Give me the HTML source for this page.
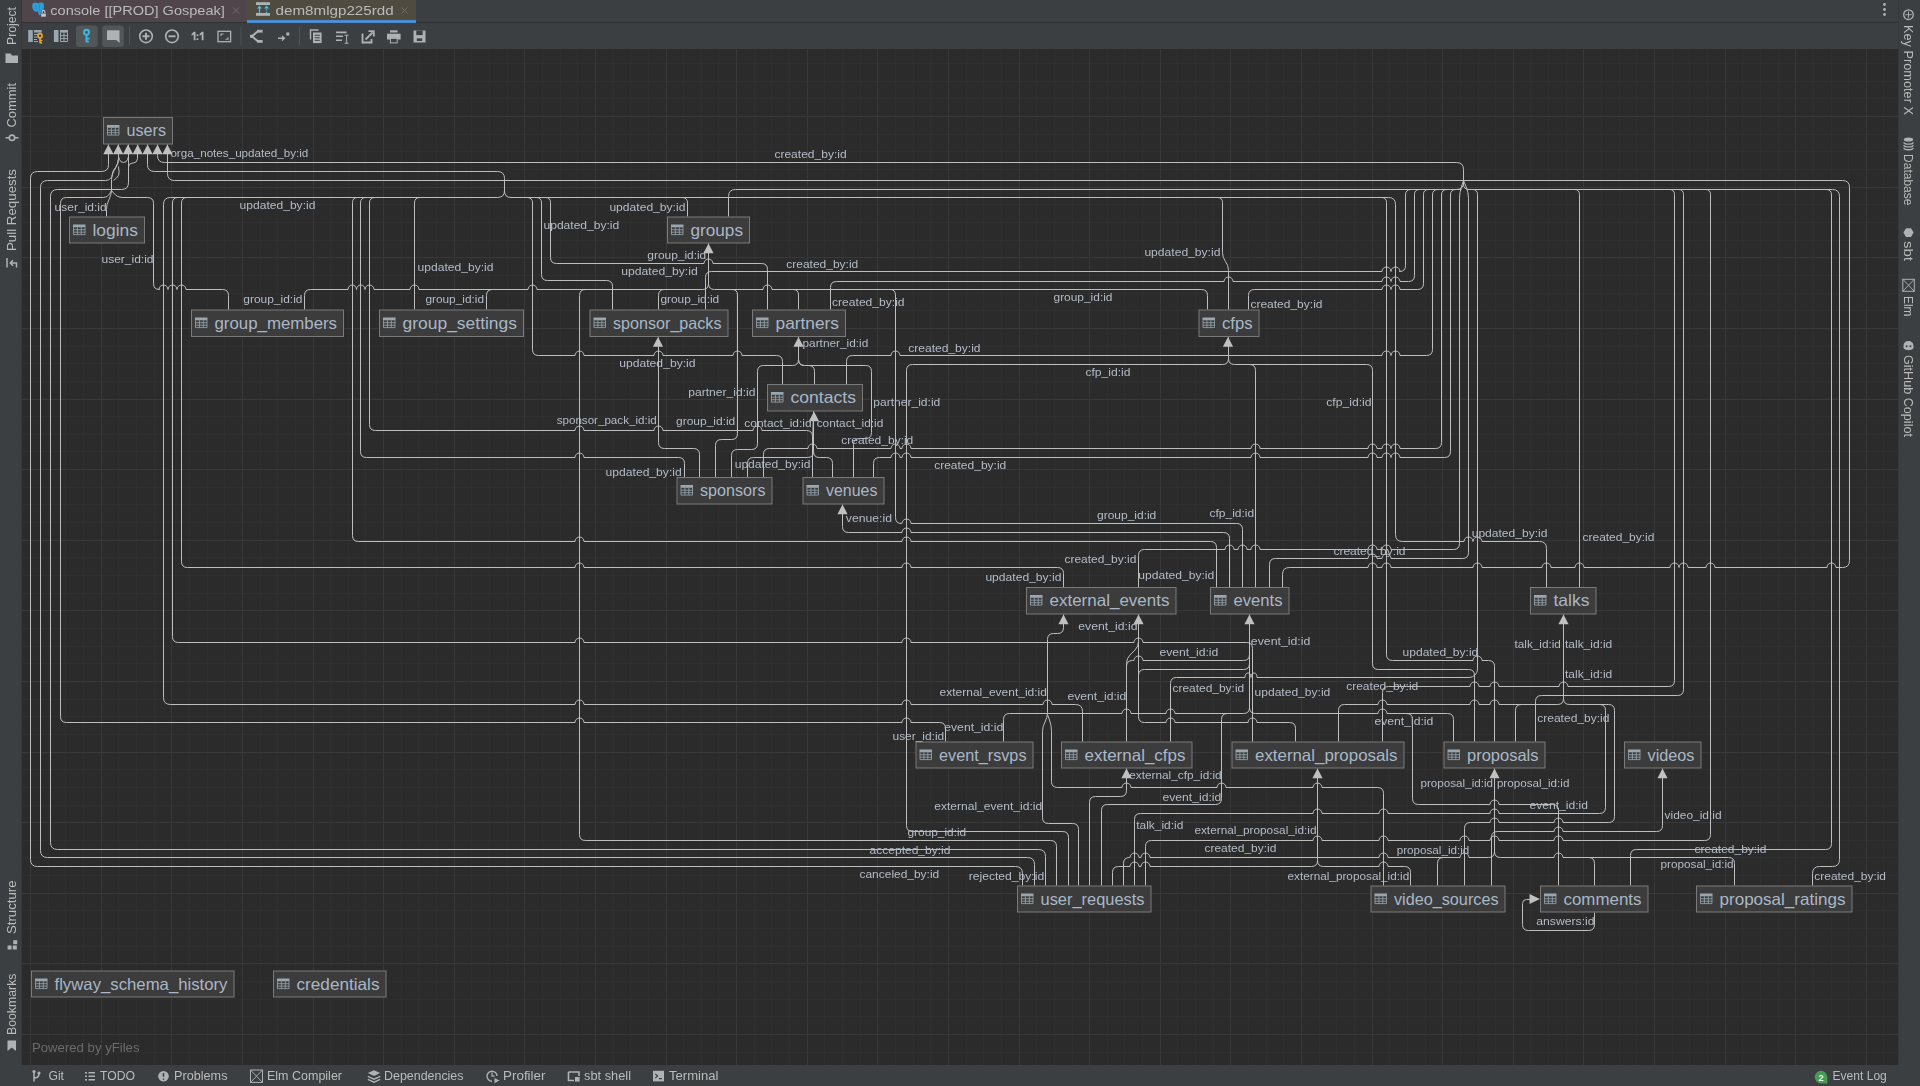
<!DOCTYPE html><html><head><meta charset="utf-8"><title>dem8mlgp225rdd</title><style>html,body{margin:0;padding:0;background:#2b2b2b;overflow:hidden;font-family:"Liberation Sans",sans-serif}svg text{white-space:pre}</style></head><body><svg width="1920" height="1086" viewBox="0 0 1920 1086" style="display:block"><rect x="22" y="49" width="1876" height="1016" fill="#2b2b2b"/><path d="M48.5 49V1065M65.5 49V1065M83.5 49V1065M118.5 49V1065M136.5 49V1065M154.5 49V1065M189.5 49V1065M207.5 49V1065M224.5 49V1065M260.5 49V1065M277.5 49V1065M295.5 49V1065M330.5 49V1065M348.5 49V1065M365.5 49V1065M401.5 49V1065M418.5 49V1065M436.5 49V1065M471.5 49V1065M489.5 49V1065M507.5 49V1065M542.5 49V1065M560.5 49V1065M577.5 49V1065M613.5 49V1065M630.5 49V1065M648.5 49V1065M683.5 49V1065M701.5 49V1065M718.5 49V1065M754.5 49V1065M771.5 49V1065M789.5 49V1065M824.5 49V1065M842.5 49V1065M860.5 49V1065M895.5 49V1065M913.5 49V1065M930.5 49V1065M966.5 49V1065M983.5 49V1065M1001.5 49V1065M1036.5 49V1065M1054.5 49V1065M1072.5 49V1065M1107.5 49V1065M1124.5 49V1065M1142.5 49V1065M1177.5 49V1065M1195.5 49V1065M1213.5 49V1065M1248.5 49V1065M1266.5 49V1065M1283.5 49V1065M1319.5 49V1065M1336.5 49V1065M1354.5 49V1065M1389.5 49V1065M1407.5 49V1065M1425.5 49V1065M1460.5 49V1065M1478.5 49V1065M1495.5 49V1065M1530.5 49V1065M1548.5 49V1065M1566.5 49V1065M1601.5 49V1065M1619.5 49V1065M1636.5 49V1065M1672.5 49V1065M1689.5 49V1065M1707.5 49V1065M1742.5 49V1065M1760.5 49V1065M1778.5 49V1065M1813.5 49V1065M1831.5 49V1065M1848.5 49V1065M1883.5 49V1065M22 63.5H1898M22 81.5H1898M22 98.5H1898M22 134.5H1898M22 151.5H1898M22 169.5H1898M22 204.5H1898M22 222.5H1898M22 240.5H1898M22 275.5H1898M22 293.5H1898M22 310.5H1898M22 346.5H1898M22 363.5H1898M22 381.5H1898M22 416.5H1898M22 434.5H1898M22 451.5H1898M22 487.5H1898M22 504.5H1898M22 522.5H1898M22 557.5H1898M22 575.5H1898M22 593.5H1898M22 628.5H1898M22 646.5H1898M22 663.5H1898M22 699.5H1898M22 716.5H1898M22 734.5H1898M22 769.5H1898M22 787.5H1898M22 805.5H1898M22 840.5H1898M22 857.5H1898M22 875.5H1898M22 910.5H1898M22 928.5H1898M22 946.5H1898M22 981.5H1898M22 999.5H1898M22 1016.5H1898M22 1052.5H1898" stroke="#2f2f2f" stroke-width="1" fill="none"/><path d="M30.5 49V1065M101.5 49V1065M171.5 49V1065M242.5 49V1065M313.5 49V1065M383.5 49V1065M454.5 49V1065M524.5 49V1065M595.5 49V1065M666.5 49V1065M736.5 49V1065M807.5 49V1065M877.5 49V1065M948.5 49V1065M1019.5 49V1065M1089.5 49V1065M1160.5 49V1065M1230.5 49V1065M1301.5 49V1065M1372.5 49V1065M1442.5 49V1065M1513.5 49V1065M1583.5 49V1065M1654.5 49V1065M1725.5 49V1065M1795.5 49V1065M1866.5 49V1065M22 116.5H1898M22 187.5H1898M22 257.5H1898M22 328.5H1898M22 399.5H1898M22 469.5H1898M22 540.5H1898M22 610.5H1898M22 681.5H1898M22 752.5H1898M22 822.5H1898M22 893.5H1898M22 963.5H1898M22 1034.5H1898" stroke="#383838" stroke-width="1" fill="none"/><path d="M108.5 144.5L108.5 164.5Q108.5 171.5 101.5 171.5L37.5 171.5Q30.5 171.5 30.5 178.5L30.5 859.5Q30.5 866.5 37.5 866.5L1015.5 866.5Q1022.5 866.5 1022.5 873.5L1022.5 885.5 M118.5 144.5L118.5 158.5Q118.5 163.5 115.5 167.5L114 169.5Q112.5 171.5 112.5 174L112.5 174Q112.5 176.5 110.73 178.27L110.5 178.5Q108.5 180.5 105.67 180.5L47.5 180.5Q40.5 180.5 40.5 187.5L40.5 850.5Q40.5 857.5 47.5 857.5L1027.5 857.5Q1034.5 857.5 1034.5 864.5L1034.5 885.5 M128.5 144.5L128.5 182.5Q128.5 189.5 121.5 189.5L57.5 189.5Q50.5 189.5 50.5 196.5L50.5 842.5Q50.5 849.5 57.5 849.5L1038.5 849.5Q1045.5 849.5 1045.5 856.5L1045.5 885.5 M106.5 216.5L106.5 209.5Q106.5 204.5 108.74 200.03L109.26 198.97Q111.5 194.5 111.5 189.5L111.5 179.5Q111.5 174.5 114.18 170.28L115.82 167.72Q118.5 163.5 118.5 158.5L118.5 144.5 M111.5 190.5L109.5 194Q107.5 197.5 103.47 197.5L66.5 197.5Q60.5 197.5 60.5 203.5L60.5 716.5Q60.5 722.5 66.5 722.5L575 722.5A4.5 4.5 0 0 1 584 722.5L902 722.5A4.5 4.5 0 0 1 911 722.5L939.5 722.5Q945.5 722.5 945.5 728.5L945.5 741.5 M228.5 309.5L228.5 295.5Q228.5 289.5 222.5 289.5L186 289.5A4.5 4.5 0 0 0 177 289.5L177 289.5A4.5 4.5 0 0 0 168 289.5L168 289.5A4.5 4.5 0 0 0 159 289.5L159.5 289.5Q153.5 289.5 153.5 283.5L153.5 203.5Q153.5 197.5 147.5 197.5L122.11 197.5Q117.5 197.5 114.5 194L111.5 190.5 M137.5 144.5L137.5 158.5Q137.5 162.5 133.52 162.94L131.98 163.11Q128.5 163.5 128.5 167L128.5 170.5 M118.5 156.5L119.55 159.65Q120.5 162.5 123.5 162.5L123.5 162.5Q126.5 162.5 127.45 159.65L128.5 156.5 M118.5 166.5L119.07 171.62Q119.5 175.5 116.5 178L113.5 180.5 M147.5 144.5L147.5 164.5Q147.5 171.5 154.5 171.5L497.5 171.5Q504.5 171.5 504.5 178.5L504.5 190.5Q504.5 197.5 497.5 197.5L170.5 197.5Q163.5 197.5 163.5 204.5L163.5 697.5Q163.5 704.5 170.5 704.5L575 704.5A4.5 4.5 0 0 1 584 704.5L902 704.5A4.5 4.5 0 0 1 911 704.5L1043 704.5A4.5 4.5 0 0 1 1052 704.5L1075.5 704.5Q1082.5 704.5 1082.5 711.5L1082.5 741.5 M504.5 184.5L504.5 191Q504.5 197.5 511 197.5L1388.5 197.5Q1395.5 197.5 1395.5 204.5L1395.5 534.5Q1395.5 541.5 1402.5 541.5L1464 541.5A4.5 4.5 0 0 1 1473 541.5L1473 541.5A4.5 4.5 0 0 1 1482 541.5L1539.5 541.5Q1546.5 541.5 1546.5 548.5L1546.5 587.5 M183.5 197.5L178 197.5Q172.5 197.5 172.5 203L172.5 636.5Q172.5 642.5 178.5 642.5L575 642.5A4.5 4.5 0 0 1 584 642.5L902 642.5A4.5 4.5 0 0 1 911 642.5L1134 642.5A4.5 4.5 0 0 1 1143 642.5L1246.5 642.5Q1252.5 642.5 1252.5 648.5L1252.5 741.5 M192.5 197.5L187 197.5Q181.5 197.5 181.5 203L181.5 561.5Q181.5 567.5 187.5 567.5L575 567.5A4.5 4.5 0 0 1 584 567.5L902 567.5A4.5 4.5 0 0 1 911 567.5L1057.5 567.5Q1063.5 567.5 1063.5 573.5L1063.5 587.5 M362.5 197.5L357.5 197.5Q352.5 197.5 352.5 202.5L352.5 535.5Q352.5 541.5 358.5 541.5L575 541.5A4.5 4.5 0 0 1 584 541.5L902 541.5A4.5 4.5 0 0 1 911 541.5L1210.5 541.5Q1216.5 541.5 1216.5 547.5L1216.5 587.5 M371.5 197.5L366 197.5Q360.5 197.5 360.5 203L360.5 451.5Q360.5 457.5 366.5 457.5L575 457.5A4.5 4.5 0 0 1 584 457.5L678.5 457.5Q684.5 457.5 684.5 463.5L684.5 477.5 M380.5 197.5L375 197.5Q369.5 197.5 369.5 203L369.5 424.5Q369.5 430.5 375.5 430.5L575 430.5A4.5 4.5 0 0 1 584 430.5L654 430.5A4.5 4.5 0 0 1 663 430.5L753 430.5A4.5 4.5 0 0 1 762 430.5L806.5 430.5Q812.5 430.5 812.5 436.5L812.5 477.5 M425.5 197.5L420 197.5Q414.5 197.5 414.5 203L414.5 309.5 M521.5 197.5L527 197.5Q532.5 197.5 532.5 203L532.5 349.5Q532.5 355.5 538.5 355.5L575 355.5A4.5 4.5 0 0 1 584 355.5L654 355.5A4.5 4.5 0 0 1 663 355.5L733 355.5A4.5 4.5 0 0 1 742 355.5L776.5 355.5Q782.5 355.5 782.5 361.5L782.5 384.5 M530.5 197.5L536 197.5Q541.5 197.5 541.5 203L541.5 274.5Q541.5 280.5 547.5 280.5L606.5 280.5Q612.5 280.5 612.5 286.5L612.5 309.5 M540.5 197.5L545.5 197.5Q550.5 197.5 550.5 202.5L550.5 257.5Q550.5 263.5 556.5 263.5L704 263.5A4.5 4.5 0 0 1 713 263.5L761.5 263.5Q767.5 263.5 767.5 269.5L767.5 309.5 M676.5 197.5L682 197.5Q687.5 197.5 687.5 203L687.5 216.5 M1212.5 197.5L1217.5 197.5Q1222.5 197.5 1222.5 202.5L1222.5 252.5Q1222.5 257.5 1225.5 261.5L1225.5 261.5Q1228.5 265.5 1228.5 270.5L1228.5 309.5 M1376.5 197.5L1381.5 197.5Q1386.5 197.5 1386.5 202.5L1386.5 654.5Q1386.5 660.5 1392.5 660.5L1473 660.5A4.5 4.5 0 0 1 1482 660.5L1488.5 660.5Q1494.5 660.5 1494.5 666.5L1494.5 741.5 M157.5 144.5L157.5 155.5Q157.5 162.5 164.5 162.5L1456.5 162.5Q1463.5 162.5 1463.5 169.5L1463.5 182.5Q1463.5 189.5 1456.5 189.5L735.5 189.5Q728.5 189.5 728.5 196.5L728.5 216.5 M1463.5 178.5L1463.5 184Q1463.5 189.5 1469 189.5L1832.5 189.5Q1839.5 189.5 1839.5 196.5L1839.5 859.5Q1839.5 866.5 1832.5 866.5L1819.5 866.5Q1812.5 866.5 1812.5 873.5L1812.5 885.5 M1416.5 189.5L1411 189.5Q1405.5 189.5 1405.5 195L1405.5 265.5Q1405.5 271.5 1399.5 271.5L1400 271.5A4.5 4.5 0 0 0 1391 271.5L1391 271.5A4.5 4.5 0 0 0 1382 271.5L711.5 271.5Q705.5 271.5 705.5 277.5L705.5 309.5 M1424.5 189.5L1419.5 189.5Q1414.5 189.5 1414.5 194.5L1414.5 275.5Q1414.5 281.5 1408.5 281.5L1400 281.5A4.5 4.5 0 0 0 1391 281.5L1391 281.5A4.5 4.5 0 0 0 1382 281.5L1233 281.5A4.5 4.5 0 0 0 1224 281.5L836.5 281.5Q830.5 281.5 830.5 287.5L830.5 309.5 M1433.5 189.5L1428.5 189.5Q1423.5 189.5 1423.5 194.5L1423.5 283.5Q1423.5 289.5 1417.5 289.5L1400 289.5A4.5 4.5 0 0 0 1391 289.5L1391 289.5A4.5 4.5 0 0 0 1382 289.5L1254.5 289.5Q1248.5 289.5 1248.5 295.5L1248.5 309.5 M1443.5 189.5L1438 189.5Q1432.5 189.5 1432.5 195L1432.5 349.5Q1432.5 355.5 1426.5 355.5L1400 355.5A4.5 4.5 0 0 0 1391 355.5L1391 355.5A4.5 4.5 0 0 0 1382 355.5L900 355.5A4.5 4.5 0 0 0 891 355.5L852.5 355.5Q846.5 355.5 846.5 361.5L846.5 384.5 M1452.5 189.5L1447 189.5Q1441.5 189.5 1441.5 195L1441.5 442.5Q1441.5 448.5 1435.5 448.5L1400 448.5A4.5 4.5 0 0 0 1391 448.5L1391 448.5A4.5 4.5 0 0 0 1382 448.5L1377 448.5A4.5 4.5 0 0 0 1368 448.5L1260 448.5A4.5 4.5 0 0 0 1251 448.5L911 448.5A4.5 4.5 0 0 0 902 448.5L900 448.5A4.5 4.5 0 0 0 891 448.5L817 448.5A4.5 4.5 0 0 0 808 448.5L769.5 448.5Q763.5 448.5 763.5 454.5L763.5 477.5 M1461.5 189.5L1456 189.5Q1450.5 189.5 1450.5 195L1450.5 451.5Q1450.5 457.5 1444.5 457.5L1400 457.5A4.5 4.5 0 0 0 1391 457.5L1391 457.5A4.5 4.5 0 0 0 1382 457.5L1377 457.5A4.5 4.5 0 0 0 1368 457.5L1260 457.5A4.5 4.5 0 0 0 1251 457.5L911 457.5A4.5 4.5 0 0 0 902 457.5L900 457.5A4.5 4.5 0 0 0 891 457.5L879.5 457.5Q873.5 457.5 873.5 463.5L873.5 477.5 M1463.5 180.5L1461.4 186.81Q1459.5 192.5 1459.5 198.5L1459.5 543.5Q1459.5 549.5 1453.5 549.5L1391 549.5A4.5 4.5 0 0 0 1382 549.5L1377 549.5A4.5 4.5 0 0 0 1368 549.5L1260 549.5A4.5 4.5 0 0 0 1251 549.5L1247 549.5A4.5 4.5 0 0 0 1238 549.5L1234 549.5A4.5 4.5 0 0 0 1225 549.5L1144.5 549.5Q1138.5 549.5 1138.5 555.5L1138.5 587.5 M1463.5 180.5L1466.19 186.96Q1468.5 192.5 1468.5 198.5L1468.5 552.5Q1468.5 558.5 1462.5 558.5L1391 558.5A4.5 4.5 0 0 0 1382 558.5L1377 558.5A4.5 4.5 0 0 0 1368 558.5L1275.5 558.5Q1269.5 558.5 1269.5 564.5L1269.5 587.5 M1467.5 189.5L1472.5 189.5Q1477.5 189.5 1477.5 194.5L1477.5 668.96Q1477.5 672.5 1475 675L1475 675Q1472.5 677.5 1468.96 677.5L1257 677.5A3 4.5 0 0 0 1251 677.5A3 4.5 0 0 0 1245 677.5L1176.5 677.5Q1170.5 677.5 1170.5 683.5L1170.5 741.5 M1569.5 189.5L1574.5 189.5Q1579.5 189.5 1579.5 194.5L1579.5 587.5 M1664.5 189.5L1669.5 189.5Q1674.5 189.5 1674.5 194.5L1674.5 680.5Q1674.5 686.5 1668.5 686.5L1568 686.5A4.5 4.5 0 0 0 1559 686.5L1499 686.5A4.5 4.5 0 0 0 1490 686.5L1479 686.5A4.5 4.5 0 0 0 1470 686.5L1388.5 686.5Q1382.5 686.5 1382.5 692.5L1382.5 741.5 M1673.5 189.5L1678.5 189.5Q1683.5 189.5 1683.5 194.5L1683.5 689.5Q1683.5 695.5 1677.5 695.5L1541.5 695.5Q1535.5 695.5 1535.5 701.5L1535.5 741.5 M1700.5 189.5L1705.5 189.5Q1710.5 189.5 1710.5 194.5L1710.5 834.5Q1710.5 840.5 1704.5 840.5L1563 840.5A4.5 4.5 0 0 0 1554 840.5L1499 840.5A4.5 4.5 0 0 0 1490 840.5L1469 840.5A4.5 4.5 0 0 0 1460 840.5L1388 840.5A4.5 4.5 0 0 0 1379 840.5L1322 840.5A4.5 4.5 0 0 0 1313 840.5L1151.5 840.5Q1145.5 840.5 1145.5 846.5L1145.5 885.5 M1820.5 189.5L1826 189.5Q1831.5 189.5 1831.5 195L1831.5 843.5Q1831.5 849.5 1825.5 849.5L1636.5 849.5Q1630.5 849.5 1630.5 855.5L1630.5 885.5 M167.5 144.5L167.5 173.5Q167.5 180.5 174.5 180.5L1842.5 180.5Q1849.5 180.5 1849.5 187.5L1849.5 560.5Q1849.5 567.5 1842.5 567.5L1836 567.5A4.5 4.5 0 0 0 1827 567.5L1715 567.5A4.5 4.5 0 0 0 1706 567.5L1688 567.5A4.5 4.5 0 0 0 1679 567.5L1679 567.5A4.5 4.5 0 0 0 1670 567.5L1584 567.5A4.5 4.5 0 0 0 1575 567.5L1551 567.5A4.5 4.5 0 0 0 1542 567.5L1482 567.5A4.5 4.5 0 0 0 1473 567.5L1391 567.5A4.5 4.5 0 0 0 1382 567.5L1377 567.5A4.5 4.5 0 0 0 1368 567.5L1289.5 567.5Q1282.5 567.5 1282.5 574.5L1282.5 587.5 M1228.5 337.5L1228.5 358.5Q1228.5 364.5 1234.5 364.5L1366.5 364.5Q1372.5 364.5 1372.5 370.5L1372.5 663.5Q1372.5 669.5 1378.5 669.5L1468.5 669.5Q1474.5 669.5 1474.5 675.5L1474.5 741.5 M1228.5 337.5L1228.5 358.5Q1228.5 364.5 1222.5 364.5L912.5 364.5Q906.5 364.5 906.5 370.5L906.5 825.5Q906.5 831.5 912.5 831.5L1062.5 831.5Q1068.5 831.5 1068.5 837.5L1068.5 885.5 M1240.5 364.5L1249.5 364.5Q1255.5 364.5 1255.5 370.5L1255.5 587.5 M304.5 309.5L304.5 295.5Q304.5 289.5 310.5 289.5L348 289.5A4.25 4.5 0 0 1 356.5 289.5A4.25 4.5 0 0 1 365 289.5L365 289.5A4.5 4.5 0 0 1 374 289.5L410 289.5A4.5 4.5 0 0 1 419 289.5L528 289.5A4.5 4.5 0 0 1 537 289.5L702.5 289.5Q708.5 289.5 708.5 283.5L708.5 243.5 M486.5 309.5L486.5 295.5Q486.5 289.5 492.5 289.5L498.5 289.5 M658.5 309.5L658.5 295.5Q658.5 289.5 664.5 289.5L670.5 289.5 M591.5 289.5L585.5 289.5Q579.5 289.5 579.5 295.5L579.5 834.5Q579.5 840.5 585.5 840.5L1050.5 840.5Q1056.5 840.5 1056.5 846.5L1056.5 885.5 M708.5 243.5L708.5 283.5Q708.5 289.5 714.5 289.5L763 289.5A4.5 4.5 0 0 1 772 289.5L1201.5 289.5Q1207.5 289.5 1207.5 295.5L1207.5 309.5 M726.5 289.5L732 289.5Q737.5 289.5 737.5 295L737.5 433.5Q737.5 439.5 731.5 439.5L721.5 439.5Q715.5 439.5 715.5 445.5L715.5 477.5 M787.5 289.5L793 289.5Q798.5 289.5 798.5 295L798.5 309.5 M884.5 289.5L890 289.5Q895.5 289.5 895.5 295L895.5 517.5Q895.5 523.5 901.5 523.5L902 523.5A4.5 4.5 0 0 1 911 523.5L1236.5 523.5Q1242.5 523.5 1242.5 529.5L1242.5 587.5 M699.5 477.5L699.5 454.5Q699.5 448.5 693.5 448.5L664.5 448.5Q658.5 448.5 658.5 442.5L658.5 337.5 M731.5 477.5L731.5 455.5Q731.5 449.5 737.5 449.5L751.5 449.5Q757.5 449.5 757.5 443.5L757.5 371.5Q757.5 365.5 763.5 365.5L792.5 365.5Q798.5 365.5 798.5 359.5L798.5 337.5 M814.5 384.5L814.5 371.5Q814.5 365.5 808.5 365.5L804.5 365.5Q798.5 365.5 798.5 359.5L798.5 337.5 M853.5 477.5L853.5 444.5Q853.5 438.5 859.5 438.5L865.5 438.5Q871.5 438.5 871.5 432.5L871.5 371.5Q871.5 365.5 865.5 365.5L804.5 365.5Q798.5 365.5 798.5 359.5L798.5 337.5 M747.5 477.5L747.5 463.5Q747.5 457.5 753.5 457.5L807.5 457.5Q813.5 457.5 813.5 451.5L813.5 411.5 M832.5 477.5L832.5 463.5Q832.5 457.5 826.5 457.5L819.5 457.5Q813.5 457.5 813.5 451.5L813.5 411.5 M812.5 445.5L813.5 411.5 M842.5 504.5L842.5 526.5Q842.5 532.5 848.5 532.5L902 532.5A4.5 4.5 0 0 1 911 532.5L1223.5 532.5Q1229.5 532.5 1229.5 538.5L1229.5 587.5 M1063.5 614.5L1063.5 627.5Q1063.5 633.5 1057.5 633.5L1053.5 633.5Q1047.5 633.5 1047.5 639.5L1047.5 712.35Q1047.5 717.5 1045 722L1045 722Q1042.5 726.5 1042.5 731.65L1042.5 817.5Q1042.5 823.5 1048.5 823.5L1072.5 823.5Q1078.5 823.5 1078.5 829.5L1078.5 885.5 M1047.5 714.5L1049.5 720Q1051.5 725.5 1051.5 731.35L1051.5 781.5Q1051.5 787.5 1057.5 787.5L1122 787.5A4.5 4.5 0 0 1 1131 787.5L1217 787.5A4.5 4.5 0 0 1 1226 787.5L1313 787.5A4.5 4.5 0 0 1 1322 787.5L1377.5 787.5Q1383.5 787.5 1383.5 793.5L1383.5 885.5 M1138.5 614.5L1138.5 716.5Q1138.5 722.5 1144.5 722.5L1166 722.5A4.5 4.5 0 0 1 1175 722.5L1248 722.5A4.5 4.5 0 0 1 1257 722.5L1289.5 722.5Q1295.5 722.5 1295.5 728.5L1295.5 741.5 M1126.5 741.5L1126.5 663.5Q1126.5 658.5 1130.04 654.96L1134.96 650.04Q1138.5 646.5 1138.5 641.5L1138.5 614.5 M1126.5 674.5L1126.5 666.5Q1126.5 660.5 1132.5 660.5L1134 660.5A4.5 4.5 0 0 1 1143 660.5L1243.5 660.5Q1249.5 660.5 1249.5 654.5L1249.5 614.5 M1138.5 684.5L1138.5 675.5Q1138.5 669.5 1144.5 669.5L1243.5 669.5Q1249.5 669.5 1249.5 663.5L1249.5 648.5 M1003.5 741.5L1003.5 719.5Q1003.5 713.5 1009.5 713.5L1122 713.5A4.5 4.5 0 0 1 1131 713.5L1166 713.5A4.5 4.5 0 0 1 1175 713.5L1243.5 713.5Q1249.5 713.5 1249.5 707.5L1249.5 614.5 M1101.5 885.5L1101.5 810.5Q1101.5 804.5 1107.5 804.5L1215.5 804.5Q1221.5 804.5 1221.5 798.5L1221.5 719.5Q1221.5 713.5 1227.5 713.5L1236.5 713.5 M1453.5 741.5L1453.5 719.5Q1453.5 713.5 1447.5 713.5L1387 713.5A4.5 4.5 0 0 0 1378 713.5L1255.5 713.5Q1249.5 713.5 1249.5 707.5L1249.5 698.5 M1558.5 885.5L1558.5 810.5Q1558.5 804.5 1552.5 804.5L1499 804.5A4.5 4.5 0 0 0 1490 804.5L1418.5 804.5Q1412.5 804.5 1412.5 798.5L1412.5 719.5Q1412.5 713.5 1406.5 713.5L1398.5 713.5 M1338.5 741.5L1338.5 710.5Q1338.5 704.5 1344.5 704.5L1378 704.5A4.5 4.5 0 0 1 1387 704.5L1470 704.5A4.5 4.5 0 0 1 1479 704.5L1490 704.5A4.5 4.5 0 0 1 1499 704.5L1557.5 704.5Q1563.5 704.5 1563.5 698.5L1563.5 614.5 M1515.5 741.5L1515.5 710.5Q1515.5 704.5 1521.5 704.5L1528.5 704.5 M1563.5 688.5L1563.5 698.5Q1563.5 704.5 1569.5 704.5L1599.5 704.5Q1605.5 704.5 1605.5 710.5L1605.5 807.5Q1605.5 813.5 1599.5 813.5L1499 813.5A4.5 4.5 0 0 0 1490 813.5L1388 813.5A4.5 4.5 0 0 0 1379 813.5L1322 813.5A4.5 4.5 0 0 0 1313 813.5L1140.5 813.5Q1134.5 813.5 1134.5 819.5L1134.5 885.5 M1594.5 704.5L1608.5 704.5Q1614.5 704.5 1614.5 710.5L1614.5 816.5Q1614.5 822.5 1608.5 822.5L1563 822.5A4.5 4.5 0 0 0 1554 822.5L1499 822.5A4.5 4.5 0 0 0 1490 822.5L1470.5 822.5Q1464.5 822.5 1464.5 828.5L1464.5 885.5 M1494.5 768.5L1494.5 851.5Q1494.5 857.5 1500.5 857.5L1554 857.5A4.5 4.5 0 0 1 1563 857.5L1588.5 857.5Q1594.5 857.5 1594.5 863.5L1594.5 885.5 M1582.5 857.5L1728.5 857.5Q1734.5 857.5 1734.5 863.5L1734.5 885.5 M1123.5 885.5L1123.5 863.5Q1123.5 857.5 1129.5 857.5L1130 857.5A4.5 4.5 0 0 1 1139 857.5L1141 857.5A4.5 4.5 0 0 1 1150 857.5L1379 857.5A4.5 4.5 0 0 1 1388 857.5L1460 857.5A4.5 4.5 0 0 1 1469 857.5L1488.5 857.5Q1494.5 857.5 1494.5 851.5L1494.5 843.5 M1437.5 885.5L1437.5 863.5Q1437.5 857.5 1443.5 857.5L1449.5 857.5 M1491.5 885.5L1491.5 837.5Q1491.5 831.5 1497.5 831.5L1554 831.5A4.5 4.5 0 0 1 1563 831.5L1656.5 831.5Q1662.5 831.5 1662.5 825.5L1662.5 768.5 M1126.5 768.5L1126.5 790.5Q1126.5 796.5 1120.5 796.5L1095.5 796.5Q1089.5 796.5 1089.5 802.5L1089.5 885.5 M1317.5 768.5L1317.5 860.5Q1317.5 866.5 1311.5 866.5L1150 866.5A4.5 4.5 0 0 0 1141 866.5L1139 866.5A4.5 4.5 0 0 0 1130 866.5L1118.5 866.5Q1112.5 866.5 1112.5 872.5L1112.5 885.5 M1317.5 853.5L1317.5 860.5Q1317.5 866.5 1323.5 866.5L1379 866.5A4.5 4.5 0 0 1 1388 866.5L1404.5 866.5Q1410.5 866.5 1410.5 872.5L1410.5 885.5 M1594.5 912.5L1594.5 924.5Q1594.5 930.5 1588.5 930.5L1528.5 930.5Q1522.5 930.5 1522.5 924.5L1522.5 903.5Q1522.5 899.5 1526.5 899.5L1530.5 899.5" fill="none" stroke="#bebebe" stroke-width="1"/><path d="M108.4 144.5L103.3 154.2L113.5 154.2ZM118.2 144.5L113.1 154.2L123.3 154.2ZM128 144.5L122.9 154.2L133.1 154.2ZM137.7 144.5L132.6 154.2L142.8 154.2ZM147.6 144.5L142.5 154.2L152.7 154.2ZM157.5 144.5L152.4 154.2L162.6 154.2ZM167.4 144.5L162.3 154.2L172.5 154.2ZM708.5 243.5L703.4 253.2L713.6 253.2ZM658 337L652.9 346.7L663.1 346.7ZM798.5 337L793.4 346.7L803.6 346.7ZM1228 337L1222.9 346.7L1233.1 346.7ZM814 411.5L808.9 421.2L819.1 421.2ZM842.5 504.5L837.4 514.2L847.6 514.2ZM1063.5 614.5L1058.4 624.2L1068.6 624.2ZM1138.5 614.5L1133.4 624.2L1143.6 624.2ZM1249.5 614.5L1244.4 624.2L1254.6 624.2ZM1563.5 614.5L1558.4 624.2L1568.6 624.2ZM1126.5 768.5L1121.4 778.2L1131.6 778.2ZM1317.5 768.5L1312.4 778.2L1322.6 778.2ZM1494.5 768.5L1489.4 778.2L1499.6 778.2ZM1662.5 768.5L1657.4 778.2L1667.6 778.2ZM1540 899L1529.5 893.9L1529.5 904.1Z" fill="#c0c0c0"/><rect x="103.5" y="117.5" width="69" height="26.5" fill="#3c3c3c" stroke="#7a7a7a" stroke-width="1"/><rect x="107" y="125" width="12.5" height="2.8" fill="#9aa7b0"/><path d="M107.5 127.8V135.1H119V127.8 M107.5 130.2H119 M107.5 132.7H119 M111.4 127.8V135.1 M115.3 127.8V135.1" fill="none" stroke="#9aa7b0" stroke-width="1" opacity="0.8"/><text x="126.5" y="136.2" font-family="Liberation Sans, sans-serif" font-size="16.5" fill="#a9b7c6" textLength="39.5" lengthAdjust="spacingAndGlyphs">users</text><rect x="69.5" y="217" width="75" height="26" fill="#3c3c3c" stroke="#7a7a7a" stroke-width="1"/><rect x="73" y="224.5" width="12.5" height="2.8" fill="#9aa7b0"/><path d="M73.5 227.3V234.6H85V227.3 M73.5 229.7H85 M73.5 232.2H85 M77.4 227.3V234.6 M81.3 227.3V234.6" fill="none" stroke="#9aa7b0" stroke-width="1" opacity="0.8"/><text x="92.5" y="235.7" font-family="Liberation Sans, sans-serif" font-size="16.5" fill="#a9b7c6" textLength="45.5" lengthAdjust="spacingAndGlyphs">logins</text><rect x="667.5" y="217" width="82" height="26" fill="#3c3c3c" stroke="#7a7a7a" stroke-width="1"/><rect x="671" y="224.5" width="12.5" height="2.8" fill="#9aa7b0"/><path d="M671.5 227.3V234.6H683V227.3 M671.5 229.7H683 M671.5 232.2H683 M675.4 227.3V234.6 M679.3 227.3V234.6" fill="none" stroke="#9aa7b0" stroke-width="1" opacity="0.8"/><text x="690.5" y="235.7" font-family="Liberation Sans, sans-serif" font-size="16.5" fill="#a9b7c6" textLength="52.5" lengthAdjust="spacingAndGlyphs">groups</text><rect x="191.5" y="310" width="152" height="26.5" fill="#3c3c3c" stroke="#7a7a7a" stroke-width="1"/><rect x="195" y="317.5" width="12.5" height="2.8" fill="#9aa7b0"/><path d="M195.5 320.3V327.6H207V320.3 M195.5 322.7H207 M195.5 325.2H207 M199.4 320.3V327.6 M203.3 320.3V327.6" fill="none" stroke="#9aa7b0" stroke-width="1" opacity="0.8"/><text x="214.5" y="328.7" font-family="Liberation Sans, sans-serif" font-size="16.5" fill="#a9b7c6" textLength="122.5" lengthAdjust="spacingAndGlyphs">group_members</text><rect x="379.5" y="310" width="144" height="26.5" fill="#3c3c3c" stroke="#7a7a7a" stroke-width="1"/><rect x="383" y="317.5" width="12.5" height="2.8" fill="#9aa7b0"/><path d="M383.5 320.3V327.6H395V320.3 M383.5 322.7H395 M383.5 325.2H395 M387.4 320.3V327.6 M391.3 320.3V327.6" fill="none" stroke="#9aa7b0" stroke-width="1" opacity="0.8"/><text x="402.5" y="328.7" font-family="Liberation Sans, sans-serif" font-size="16.5" fill="#a9b7c6" textLength="114.5" lengthAdjust="spacingAndGlyphs">group_settings</text><rect x="590" y="310" width="138" height="26.5" fill="#3c3c3c" stroke="#7a7a7a" stroke-width="1"/><rect x="593.5" y="317.5" width="12.5" height="2.8" fill="#9aa7b0"/><path d="M594 320.3V327.6H605.5V320.3 M594 322.7H605.5 M594 325.2H605.5 M597.9 320.3V327.6 M601.8 320.3V327.6" fill="none" stroke="#9aa7b0" stroke-width="1" opacity="0.8"/><text x="613" y="328.7" font-family="Liberation Sans, sans-serif" font-size="16.5" fill="#a9b7c6" textLength="108.5" lengthAdjust="spacingAndGlyphs">sponsor_packs</text><rect x="752.5" y="310" width="93" height="26.5" fill="#3c3c3c" stroke="#7a7a7a" stroke-width="1"/><rect x="756" y="317.5" width="12.5" height="2.8" fill="#9aa7b0"/><path d="M756.5 320.3V327.6H768V320.3 M756.5 322.7H768 M756.5 325.2H768 M760.4 320.3V327.6 M764.3 320.3V327.6" fill="none" stroke="#9aa7b0" stroke-width="1" opacity="0.8"/><text x="775.5" y="328.7" font-family="Liberation Sans, sans-serif" font-size="16.5" fill="#a9b7c6" textLength="63.5" lengthAdjust="spacingAndGlyphs">partners</text><rect x="1199" y="310" width="60" height="26.5" fill="#3c3c3c" stroke="#7a7a7a" stroke-width="1"/><rect x="1202.5" y="317.5" width="12.5" height="2.8" fill="#9aa7b0"/><path d="M1203 320.3V327.6H1214.5V320.3 M1203 322.7H1214.5 M1203 325.2H1214.5 M1206.9 320.3V327.6 M1210.8 320.3V327.6" fill="none" stroke="#9aa7b0" stroke-width="1" opacity="0.8"/><text x="1222" y="328.7" font-family="Liberation Sans, sans-serif" font-size="16.5" fill="#a9b7c6" textLength="30.5" lengthAdjust="spacingAndGlyphs">cfps</text><rect x="767.5" y="384.5" width="95" height="26.5" fill="#3c3c3c" stroke="#7a7a7a" stroke-width="1"/><rect x="771" y="392" width="12.5" height="2.8" fill="#9aa7b0"/><path d="M771.5 394.8V402.1H783V394.8 M771.5 397.2H783 M771.5 399.7H783 M775.4 394.8V402.1 M779.3 394.8V402.1" fill="none" stroke="#9aa7b0" stroke-width="1" opacity="0.8"/><text x="790.5" y="403.2" font-family="Liberation Sans, sans-serif" font-size="16.5" fill="#a9b7c6" textLength="65.5" lengthAdjust="spacingAndGlyphs">contacts</text><rect x="677" y="477.5" width="95" height="26.5" fill="#3c3c3c" stroke="#7a7a7a" stroke-width="1"/><rect x="680.5" y="485" width="12.5" height="2.8" fill="#9aa7b0"/><path d="M681 487.8V495.1H692.5V487.8 M681 490.2H692.5 M681 492.7H692.5 M684.9 487.8V495.1 M688.8 487.8V495.1" fill="none" stroke="#9aa7b0" stroke-width="1" opacity="0.8"/><text x="700" y="496.2" font-family="Liberation Sans, sans-serif" font-size="16.5" fill="#a9b7c6" textLength="65.5" lengthAdjust="spacingAndGlyphs">sponsors</text><rect x="803" y="477.5" width="81" height="26.5" fill="#3c3c3c" stroke="#7a7a7a" stroke-width="1"/><rect x="806.5" y="485" width="12.5" height="2.8" fill="#9aa7b0"/><path d="M807 487.8V495.1H818.5V487.8 M807 490.2H818.5 M807 492.7H818.5 M810.9 487.8V495.1 M814.8 487.8V495.1" fill="none" stroke="#9aa7b0" stroke-width="1" opacity="0.8"/><text x="826" y="496.2" font-family="Liberation Sans, sans-serif" font-size="16.5" fill="#a9b7c6" textLength="51.5" lengthAdjust="spacingAndGlyphs">venues</text><rect x="1026.5" y="587.5" width="149.5" height="26.5" fill="#3c3c3c" stroke="#7a7a7a" stroke-width="1"/><rect x="1030" y="595" width="12.5" height="2.8" fill="#9aa7b0"/><path d="M1030.5 597.8V605.1H1042V597.8 M1030.5 600.2H1042 M1030.5 602.7H1042 M1034.4 597.8V605.1 M1038.3 597.8V605.1" fill="none" stroke="#9aa7b0" stroke-width="1" opacity="0.8"/><text x="1049.5" y="606.2" font-family="Liberation Sans, sans-serif" font-size="16.5" fill="#a9b7c6" textLength="120" lengthAdjust="spacingAndGlyphs">external_events</text><rect x="1210.5" y="587.5" width="78.5" height="26.5" fill="#3c3c3c" stroke="#7a7a7a" stroke-width="1"/><rect x="1214" y="595" width="12.5" height="2.8" fill="#9aa7b0"/><path d="M1214.5 597.8V605.1H1226V597.8 M1214.5 600.2H1226 M1214.5 602.7H1226 M1218.4 597.8V605.1 M1222.3 597.8V605.1" fill="none" stroke="#9aa7b0" stroke-width="1" opacity="0.8"/><text x="1233.5" y="606.2" font-family="Liberation Sans, sans-serif" font-size="16.5" fill="#a9b7c6" textLength="49" lengthAdjust="spacingAndGlyphs">events</text><rect x="1530.5" y="587.5" width="65.5" height="26.5" fill="#3c3c3c" stroke="#7a7a7a" stroke-width="1"/><rect x="1534" y="595" width="12.5" height="2.8" fill="#9aa7b0"/><path d="M1534.5 597.8V605.1H1546V597.8 M1534.5 600.2H1546 M1534.5 602.7H1546 M1538.4 597.8V605.1 M1542.3 597.8V605.1" fill="none" stroke="#9aa7b0" stroke-width="1" opacity="0.8"/><text x="1553.5" y="606.2" font-family="Liberation Sans, sans-serif" font-size="16.5" fill="#a9b7c6" textLength="36" lengthAdjust="spacingAndGlyphs">talks</text><rect x="916" y="742" width="117" height="26" fill="#3c3c3c" stroke="#7a7a7a" stroke-width="1"/><rect x="919.5" y="749.5" width="12.5" height="2.8" fill="#9aa7b0"/><path d="M920 752.3V759.6H931.5V752.3 M920 754.7H931.5 M920 757.2H931.5 M923.9 752.3V759.6 M927.8 752.3V759.6" fill="none" stroke="#9aa7b0" stroke-width="1" opacity="0.8"/><text x="939" y="760.7" font-family="Liberation Sans, sans-serif" font-size="16.5" fill="#a9b7c6" textLength="87.5" lengthAdjust="spacingAndGlyphs">event_rsvps</text><rect x="1061.5" y="742" width="130.5" height="26" fill="#3c3c3c" stroke="#7a7a7a" stroke-width="1"/><rect x="1065" y="749.5" width="12.5" height="2.8" fill="#9aa7b0"/><path d="M1065.5 752.3V759.6H1077V752.3 M1065.5 754.7H1077 M1065.5 757.2H1077 M1069.4 752.3V759.6 M1073.3 752.3V759.6" fill="none" stroke="#9aa7b0" stroke-width="1" opacity="0.8"/><text x="1084.5" y="760.7" font-family="Liberation Sans, sans-serif" font-size="16.5" fill="#a9b7c6" textLength="101" lengthAdjust="spacingAndGlyphs">external_cfps</text><rect x="1232" y="742" width="172" height="26" fill="#3c3c3c" stroke="#7a7a7a" stroke-width="1"/><rect x="1235.5" y="749.5" width="12.5" height="2.8" fill="#9aa7b0"/><path d="M1236 752.3V759.6H1247.5V752.3 M1236 754.7H1247.5 M1236 757.2H1247.5 M1239.9 752.3V759.6 M1243.8 752.3V759.6" fill="none" stroke="#9aa7b0" stroke-width="1" opacity="0.8"/><text x="1255" y="760.7" font-family="Liberation Sans, sans-serif" font-size="16.5" fill="#a9b7c6" textLength="142.5" lengthAdjust="spacingAndGlyphs">external_proposals</text><rect x="1444" y="742" width="101" height="26" fill="#3c3c3c" stroke="#7a7a7a" stroke-width="1"/><rect x="1447.5" y="749.5" width="12.5" height="2.8" fill="#9aa7b0"/><path d="M1448 752.3V759.6H1459.5V752.3 M1448 754.7H1459.5 M1448 757.2H1459.5 M1451.9 752.3V759.6 M1455.8 752.3V759.6" fill="none" stroke="#9aa7b0" stroke-width="1" opacity="0.8"/><text x="1467" y="760.7" font-family="Liberation Sans, sans-serif" font-size="16.5" fill="#a9b7c6" textLength="71.5" lengthAdjust="spacingAndGlyphs">proposals</text><rect x="1624.5" y="742" width="76.5" height="26" fill="#3c3c3c" stroke="#7a7a7a" stroke-width="1"/><rect x="1628" y="749.5" width="12.5" height="2.8" fill="#9aa7b0"/><path d="M1628.5 752.3V759.6H1640V752.3 M1628.5 754.7H1640 M1628.5 757.2H1640 M1632.4 752.3V759.6 M1636.3 752.3V759.6" fill="none" stroke="#9aa7b0" stroke-width="1" opacity="0.8"/><text x="1647.5" y="760.7" font-family="Liberation Sans, sans-serif" font-size="16.5" fill="#a9b7c6" textLength="47" lengthAdjust="spacingAndGlyphs">videos</text><rect x="1017.5" y="886" width="133.5" height="26" fill="#3c3c3c" stroke="#7a7a7a" stroke-width="1"/><rect x="1021" y="893.5" width="12.5" height="2.8" fill="#9aa7b0"/><path d="M1021.5 896.3V903.6H1033V896.3 M1021.5 898.7H1033 M1021.5 901.2H1033 M1025.4 896.3V903.6 M1029.3 896.3V903.6" fill="none" stroke="#9aa7b0" stroke-width="1" opacity="0.8"/><text x="1040.5" y="904.7" font-family="Liberation Sans, sans-serif" font-size="16.5" fill="#a9b7c6" textLength="104" lengthAdjust="spacingAndGlyphs">user_requests</text><rect x="1371" y="886" width="134" height="26" fill="#3c3c3c" stroke="#7a7a7a" stroke-width="1"/><rect x="1374.5" y="893.5" width="12.5" height="2.8" fill="#9aa7b0"/><path d="M1375 896.3V903.6H1386.5V896.3 M1375 898.7H1386.5 M1375 901.2H1386.5 M1378.9 896.3V903.6 M1382.8 896.3V903.6" fill="none" stroke="#9aa7b0" stroke-width="1" opacity="0.8"/><text x="1394" y="904.7" font-family="Liberation Sans, sans-serif" font-size="16.5" fill="#a9b7c6" textLength="104.5" lengthAdjust="spacingAndGlyphs">video_sources</text><rect x="1540.5" y="886" width="107.5" height="26" fill="#3c3c3c" stroke="#7a7a7a" stroke-width="1"/><rect x="1544" y="893.5" width="12.5" height="2.8" fill="#9aa7b0"/><path d="M1544.5 896.3V903.6H1556V896.3 M1544.5 898.7H1556 M1544.5 901.2H1556 M1548.4 896.3V903.6 M1552.3 896.3V903.6" fill="none" stroke="#9aa7b0" stroke-width="1" opacity="0.8"/><text x="1563.5" y="904.7" font-family="Liberation Sans, sans-serif" font-size="16.5" fill="#a9b7c6" textLength="78" lengthAdjust="spacingAndGlyphs">comments</text><rect x="1696.5" y="886" width="155.5" height="26" fill="#3c3c3c" stroke="#7a7a7a" stroke-width="1"/><rect x="1700" y="893.5" width="12.5" height="2.8" fill="#9aa7b0"/><path d="M1700.5 896.3V903.6H1712V896.3 M1700.5 898.7H1712 M1700.5 901.2H1712 M1704.4 896.3V903.6 M1708.3 896.3V903.6" fill="none" stroke="#9aa7b0" stroke-width="1" opacity="0.8"/><text x="1719.5" y="904.7" font-family="Liberation Sans, sans-serif" font-size="16.5" fill="#a9b7c6" textLength="126" lengthAdjust="spacingAndGlyphs">proposal_ratings</text><rect x="31.5" y="971" width="202.5" height="26" fill="#3c3c3c" stroke="#7a7a7a" stroke-width="1"/><rect x="35" y="978.5" width="12.5" height="2.8" fill="#9aa7b0"/><path d="M35.5 981.3V988.6H47V981.3 M35.5 983.7H47 M35.5 986.2H47 M39.4 981.3V988.6 M43.3 981.3V988.6" fill="none" stroke="#9aa7b0" stroke-width="1" opacity="0.8"/><text x="54.5" y="989.7" font-family="Liberation Sans, sans-serif" font-size="16.5" fill="#a9b7c6" textLength="173" lengthAdjust="spacingAndGlyphs">flyway_schema_history</text><rect x="273.5" y="971" width="112.5" height="26" fill="#3c3c3c" stroke="#7a7a7a" stroke-width="1"/><rect x="277" y="978.5" width="12.5" height="2.8" fill="#9aa7b0"/><path d="M277.5 981.3V988.6H289V981.3 M277.5 983.7H289 M277.5 986.2H289 M281.4 981.3V988.6 M285.3 981.3V988.6" fill="none" stroke="#9aa7b0" stroke-width="1" opacity="0.8"/><text x="296.5" y="989.7" font-family="Liberation Sans, sans-serif" font-size="16.5" fill="#a9b7c6" textLength="83" lengthAdjust="spacingAndGlyphs">credentials</text><g font-family="Liberation Sans, sans-serif" font-size="10.8" fill="#b3bcc7" style="will-change:transform"><text x="170.4" y="156.7" textLength="137.9" lengthAdjust="spacingAndGlyphs">orga_notes_updated_by:id</text><text x="774.4" y="157.9" textLength="72.3" lengthAdjust="spacingAndGlyphs">created_by:id</text><text x="54.6" y="210.7" textLength="52.1" lengthAdjust="spacingAndGlyphs">user_id:id</text><text x="101.5" y="262.7" textLength="52" lengthAdjust="spacingAndGlyphs">user_id:id</text><text x="239.6" y="208.9" textLength="75.8" lengthAdjust="spacingAndGlyphs">updated_by:id</text><text x="609.4" y="211" textLength="76" lengthAdjust="spacingAndGlyphs">updated_by:id</text><text x="543.5" y="229.1" textLength="75.7" lengthAdjust="spacingAndGlyphs">updated_by:id</text><text x="417.5" y="270.7" textLength="76" lengthAdjust="spacingAndGlyphs">updated_by:id</text><text x="243.3" y="303.1" textLength="59.2" lengthAdjust="spacingAndGlyphs">group_id:id</text><text x="425.4" y="303.1" textLength="58.6" lengthAdjust="spacingAndGlyphs">group_id:id</text><text x="647.3" y="259.3" textLength="58.95" lengthAdjust="spacingAndGlyphs">group_id:id</text><text x="621.25" y="274.95" textLength="76.45" lengthAdjust="spacingAndGlyphs">updated_by:id</text><text x="660.4" y="303.1" textLength="58.8" lengthAdjust="spacingAndGlyphs">group_id:id</text><text x="619.2" y="367" textLength="76.4" lengthAdjust="spacingAndGlyphs">updated_by:id</text><text x="786.25" y="268.1" textLength="72.05" lengthAdjust="spacingAndGlyphs">created_by:id</text><text x="832" y="305.7" textLength="72.6" lengthAdjust="spacingAndGlyphs">created_by:id</text><text x="802.5" y="347" textLength="65.8" lengthAdjust="spacingAndGlyphs">partner_id:id</text><text x="908.3" y="352" textLength="72.2" lengthAdjust="spacingAndGlyphs">created_by:id</text><text x="1144.4" y="256.2" textLength="76" lengthAdjust="spacingAndGlyphs">updated_by:id</text><text x="1053.5" y="301" textLength="59" lengthAdjust="spacingAndGlyphs">group_id:id</text><text x="1250.4" y="308.3" textLength="72.1" lengthAdjust="spacingAndGlyphs">created_by:id</text><text x="556.7" y="424.3" textLength="100" lengthAdjust="spacingAndGlyphs">sponsor_pack_id:id</text><text x="676" y="425.2" textLength="59.3" lengthAdjust="spacingAndGlyphs">group_id:id</text><text x="688.3" y="396.2" textLength="67.2" lengthAdjust="spacingAndGlyphs">partner_id:id</text><text x="873.3" y="406.2" textLength="67" lengthAdjust="spacingAndGlyphs">partner_id:id</text><text x="744.2" y="427" textLength="67.5" lengthAdjust="spacingAndGlyphs">contact_id:id</text><text x="816.7" y="427" textLength="66.6" lengthAdjust="spacingAndGlyphs">contact_id:id</text><text x="841.3" y="443.7" textLength="72" lengthAdjust="spacingAndGlyphs">created_by:id</text><text x="734.7" y="467.9" textLength="75.8" lengthAdjust="spacingAndGlyphs">updated_by:id</text><text x="934.2" y="469" textLength="72.05" lengthAdjust="spacingAndGlyphs">created_by:id</text><text x="605.6" y="476" textLength="76.1" lengthAdjust="spacingAndGlyphs">updated_by:id</text><text x="1085.4" y="376" textLength="45" lengthAdjust="spacingAndGlyphs">cfp_id:id</text><text x="1326.25" y="406.2" textLength="45.25" lengthAdjust="spacingAndGlyphs">cfp_id:id</text><text x="1097" y="518.9" textLength="59.3" lengthAdjust="spacingAndGlyphs">group_id:id</text><text x="1209.5" y="517" textLength="44.7" lengthAdjust="spacingAndGlyphs">cfp_id:id</text><text x="845.8" y="522" textLength="46.2" lengthAdjust="spacingAndGlyphs">venue:id</text><text x="1064.5" y="562.9" textLength="71.8" lengthAdjust="spacingAndGlyphs">created_by:id</text><text x="985.4" y="581.1" textLength="76" lengthAdjust="spacingAndGlyphs">updated_by:id</text><text x="1138.3" y="579" textLength="75.9" lengthAdjust="spacingAndGlyphs">updated_by:id</text><text x="1471.7" y="536.9" textLength="75.8" lengthAdjust="spacingAndGlyphs">updated_by:id</text><text x="1582.5" y="541.1" textLength="71.9" lengthAdjust="spacingAndGlyphs">created_by:id</text><text x="1333.4" y="554.9" textLength="72.1" lengthAdjust="spacingAndGlyphs">created_by:id</text><text x="1078.3" y="630" textLength="59.2" lengthAdjust="spacingAndGlyphs">event_id:id</text><text x="1250.8" y="645" textLength="59.5" lengthAdjust="spacingAndGlyphs">event_id:id</text><text x="1159.5" y="655.9" textLength="58.8" lengthAdjust="spacingAndGlyphs">event_id:id</text><text x="1514.5" y="647.9" textLength="46.3" lengthAdjust="spacingAndGlyphs">talk_id:id</text><text x="1565" y="647.9" textLength="47.2" lengthAdjust="spacingAndGlyphs">talk_id:id</text><text x="1565" y="677.9" textLength="47.2" lengthAdjust="spacingAndGlyphs">talk_id:id</text><text x="1402.5" y="656" textLength="75.8" lengthAdjust="spacingAndGlyphs">updated_by:id</text><text x="939.6" y="696" textLength="107.3" lengthAdjust="spacingAndGlyphs">external_event_id:id</text><text x="1067.5" y="700" textLength="58.8" lengthAdjust="spacingAndGlyphs">event_id:id</text><text x="1172.5" y="692" textLength="71.7" lengthAdjust="spacingAndGlyphs">created_by:id</text><text x="1254.5" y="696" textLength="75.8" lengthAdjust="spacingAndGlyphs">updated_by:id</text><text x="1346.2" y="690.4" textLength="72.1" lengthAdjust="spacingAndGlyphs">created_by:id</text><text x="1374.5" y="725" textLength="58.8" lengthAdjust="spacingAndGlyphs">event_id:id</text><text x="1537.2" y="722" textLength="72.3" lengthAdjust="spacingAndGlyphs">created_by:id</text><text x="944.2" y="731.2" textLength="59.1" lengthAdjust="spacingAndGlyphs">event_id:id</text><text x="892.5" y="740" textLength="51.7" lengthAdjust="spacingAndGlyphs">user_id:id</text><text x="1129.2" y="779.2" textLength="92.5" lengthAdjust="spacingAndGlyphs">external_cfp_id:id</text><text x="1420.5" y="786.9" textLength="72.5" lengthAdjust="spacingAndGlyphs">proposal_id:id</text><text x="1496.9" y="786.9" textLength="72.5" lengthAdjust="spacingAndGlyphs">proposal_id:id</text><text x="1162.5" y="801.2" textLength="58.8" lengthAdjust="spacingAndGlyphs">event_id:id</text><text x="1529.4" y="809.1" textLength="58.6" lengthAdjust="spacingAndGlyphs">event_id:id</text><text x="934.2" y="809.9" textLength="108" lengthAdjust="spacingAndGlyphs">external_event_id:id</text><text x="1664.6" y="819" textLength="57" lengthAdjust="spacingAndGlyphs">video_id:id</text><text x="1136.2" y="829.1" textLength="47.1" lengthAdjust="spacingAndGlyphs">talk_id:id</text><text x="1194.4" y="833.7" textLength="122.1" lengthAdjust="spacingAndGlyphs">external_proposal_id:id</text><text x="907.5" y="836.2" textLength="58.7" lengthAdjust="spacingAndGlyphs">group_id:id</text><text x="1204.5" y="852" textLength="71.8" lengthAdjust="spacingAndGlyphs">created_by:id</text><text x="869.5" y="854.2" textLength="81" lengthAdjust="spacingAndGlyphs">accepted_by:id</text><text x="1396.7" y="854" textLength="72.6" lengthAdjust="spacingAndGlyphs">proposal_id:id</text><text x="1694.6" y="853.2" textLength="71.8" lengthAdjust="spacingAndGlyphs">created_by:id</text><text x="1660.6" y="868" textLength="73" lengthAdjust="spacingAndGlyphs">proposal_id:id</text><text x="859.5" y="878.2" textLength="79.7" lengthAdjust="spacingAndGlyphs">canceled_by:id</text><text x="968.7" y="880" textLength="75.5" lengthAdjust="spacingAndGlyphs">rejected_by:id</text><text x="1287.5" y="880" textLength="121.7" lengthAdjust="spacingAndGlyphs">external_proposal_id:id</text><text x="1814.3" y="880" textLength="71.7" lengthAdjust="spacingAndGlyphs">created_by:id</text><text x="1536.3" y="925" textLength="58.2" lengthAdjust="spacingAndGlyphs">answers:id</text></g><text x="32" y="1052" font-family="Liberation Sans, sans-serif" font-size="13" fill="#6b6b6b" textLength="107.5" lengthAdjust="spacingAndGlyphs" >Powered by yFiles</text><rect x="0" y="0" width="1920" height="49" fill="#3c3f41"/><rect x="0" y="0" width="22" height="1086" fill="#3c3f41"/><rect x="1898" y="0" width="22" height="1086" fill="#3c3f41"/><rect x="0" y="1065" width="1920" height="21" fill="#3c3f41"/><rect x="21" y="0" width="1" height="1065" fill="#353839"/><rect x="1898" y="0" width="1" height="1065" fill="#353839"/><rect x="22" y="22" width="1876" height="1" fill="#2f3233"/><rect x="22" y="0" width="225" height="22" fill="#4f454a"/><rect x="247" y="0" width="169" height="22" fill="#4f4b40"/><rect x="247" y="20" width="169" height="3" fill="#4b8dd0"/><path d="M32.2 6Q32.2 2.6 35.5 2.6Q37.5 2.6 38.2 3.6Q39 2.6 41 2.6Q44 2.6 44 6Q44 9 42.5 10.5L41.2 10.5L41.2 14.5Q40 15.6 38.6 14.8L38 11Q36.5 12.3 34.6 11.6Q32.2 10 32.2 6Z" fill="#2f9fdb"/><path d="M36 4.5v5M39.6 4.5v6" stroke="#2a7fb0" stroke-width="0.7" fill="none"/><rect x="40.9" y="13.2" width="5.2" height="3.8" fill="#c4c6c9" stroke="#4f454a" stroke-width="0.6"/><path d="M42.2 13.2V11.7a1.35 1.35 0 0 1 2.7 0V13.2" fill="none" stroke="#c4c6c9" stroke-width="1.1"/><text x="50.3" y="14.6" font-family="Liberation Sans, sans-serif" font-size="13.2" fill="#bbbbbb" textLength="174.5" lengthAdjust="spacingAndGlyphs" >console [[PROD] Gospeak]</text><path d="M233 7.5l6 6M239 7.5l-6 6" stroke="#6e6e6e" stroke-width="1" fill="none"/><rect x="256" y="2.2" width="14" height="2.8" fill="#aeb2b5"/><rect x="256" y="13" width="14" height="2.8" fill="#aeb2b5"/><path d="M259.5 13V7.5" stroke="#40c0ee" stroke-width="1.3" fill="none"/><path d="M266.5 13V7.5" stroke="#40c0ee" stroke-width="1.3" stroke-dasharray="1.3 1.2" fill="none"/><path d="M257 8.5l2.5-3l2.5 3zM264 8.5l2.5-3l2.5 3z" fill="#40c0ee"/><text x="275.6" y="14.6" font-family="Liberation Sans, sans-serif" font-size="13.2" fill="#bbbbbb" textLength="118" lengthAdjust="spacingAndGlyphs" >dem8mlgp225rdd</text><path d="M401.5 7.5l6 6M407.5 7.5l-6 6" stroke="#6e6e6e" stroke-width="1" fill="none"/><circle cx="1884.5" cy="4.5" r="1.4" fill="#afb1b3"/><circle cx="1884.5" cy="9.5" r="1.4" fill="#afb1b3"/><circle cx="1884.5" cy="14.5" r="1.4" fill="#afb1b3"/><rect x="28.2" y="30" width="4.6" height="12" fill="#9aa7b0"/><rect x="34" y="30" width="7.7" height="2.6" fill="#9aa7b0"/><path d="M34 34.5h4M34 37h3M34 39.5h3M34 41.6h4" stroke="#9aa7b0" stroke-width="1" fill="none"/><circle cx="40" cy="35.7" r="2.1" fill="none" stroke="#f0a732" stroke-width="1.6"/><path d="M40 37.8V43.2M40 40.4h2.4M40 42.7h2" stroke="#f0a732" stroke-width="1.5" fill="none"/><rect x="53.9" y="30" width="4.6" height="12" fill="#9aa7b0"/><rect x="60" y="30" width="8" height="2.6" fill="#9aa7b0"/><path d="M60.5 32.6V41.5H67.5V32.6M60.5 35.6H67.5M60.5 38.6H67.5M64 32.6V41.5" stroke="#9aa7b0" stroke-width="1" fill="none"/><rect x="76" y="25.5" width="21.6" height="21.6" rx="3" fill="#515658"/><circle cx="86.5" cy="32.3" r="2.5" fill="none" stroke="#40b6e0" stroke-width="1.9"/><path d="M86.5 34.8V42.4M86.5 38.6h3M86.5 41.6h2.4" stroke="#40b6e0" stroke-width="1.9" fill="none"/><rect x="102.2" y="25.5" width="21.6" height="21.6" rx="3" fill="#515658"/><path d="M107 30.2h12.5v9.8v3l-3.2-3H107z" fill="#afb1b3"/><rect x="129" y="26.5" width="1" height="18.5" fill="#515457"/><circle cx="146" cy="36.3" r="6.3" fill="none" stroke="#afb1b3" stroke-width="1.6"/><path d="M142.5 36.3h7M146 32.8v7" stroke="#afb1b3" stroke-width="1.9" fill="none"/><circle cx="172" cy="36.3" r="6.3" fill="none" stroke="#afb1b3" stroke-width="1.6"/><path d="M168.5 36.3h7" stroke="#afb1b3" stroke-width="1.9" fill="none"/><path d="M191.6 34.1L193.8 31.8H195.5V40.2H193.7V34.4L191.6 35.7ZM199.6 34.1L201.8 31.8H203.5V40.2H201.7V34.4L199.6 35.7Z" fill="#afb1b3"/><rect x="196.6" y="34.4" width="1.7" height="1.7" fill="#afb1b3"/><rect x="196.6" y="38.3" width="1.7" height="1.7" fill="#afb1b3"/><rect x="218" y="31.3" width="12.6" height="10.4" fill="none" stroke="#afb1b3" stroke-width="1.3"/><path d="M221 36v-2h2.5M228 37.2v2h-2.5" stroke="#afb1b3" stroke-width="1.1" fill="none"/><rect x="240.5" y="26.5" width="1" height="18.5" fill="#515457"/><path d="M252 36.3l5.5-4.8M252 36.3l5.5 4.8" stroke="#afb1b3" stroke-width="2" fill="none"/><rect x="250" y="34.8" width="3.4" height="3" fill="#afb1b3"/><rect x="257" y="29.8" width="5.6" height="2.8" fill="#afb1b3"/><rect x="257" y="40" width="5.6" height="2.8" fill="#afb1b3"/><path d="M278 38.3h6M282 36l2.4 2.3l-2.4 2.3" stroke="#afb1b3" stroke-width="1.4" fill="none"/><rect x="286.3" y="32.5" width="3" height="3" fill="#afb1b3"/><rect x="299" y="26.5" width="1" height="18.5" fill="#515457"/><path d="M310.5 39.5V30h8" stroke="#afb1b3" stroke-width="1.4" fill="none"/><rect x="313" y="32.5" width="8.6" height="10.6" fill="#afb1b3"/><path d="M314.8 35.3h5M314.8 37.8h5M314.8 40.3h5" stroke="#3c3f41" stroke-width="1" fill="none"/><path d="M336 32.4h10.5M336 36.3h7M336 40.2h6" stroke="#afb1b3" stroke-width="1.6" fill="none"/><path d="M346.6 35.2v8M344.6 35.2h4M344.6 43.2h4" stroke="#afb1b3" stroke-width="1" fill="none"/><path d="M362.5 33.5V42.5H371.5V39" stroke="#afb1b3" stroke-width="1.8" fill="none"/><path d="M365.5 39.5L372.5 32.5M368.5 31.2H373.8V36.5" stroke="#afb1b3" stroke-width="1.8" fill="none"/><rect x="390" y="30.3" width="7.5" height="2.2" fill="#afb1b3"/><rect x="387" y="33.7" width="13.6" height="5.8" fill="#afb1b3"/><rect x="390.4" y="38.3" width="6.8" height="4.6" fill="#3c3f41" stroke="#afb1b3" stroke-width="1"/><path d="M413.5 30.5H425.5V42.5H413.5Z" fill="#afb1b3"/><rect x="416.3" y="30.5" width="6.4" height="4.6" fill="#3c3f41"/><rect x="416.8" y="38.4" width="5.4" height="2.6" fill="#3c3f41"/><text transform="translate(16 45) rotate(-90)" font-family="Liberation Sans, sans-serif" font-size="12.5" fill="#bbbbbb" textLength="38" lengthAdjust="spacingAndGlyphs">Project</text><path d="M5.5 53.5h5l1.5 2h6v7.5H5.5z" fill="#afb1b3"/><text transform="translate(16 127.5) rotate(-90)" font-family="Liberation Sans, sans-serif" font-size="12.5" fill="#bbbbbb" textLength="44.5" lengthAdjust="spacingAndGlyphs">Commit</text><circle cx="12" cy="137.8" r="2.7" fill="none" stroke="#afb1b3" stroke-width="1.6"/><path d="M5.5 137.8h3.6M14.9 137.8h3.6" stroke="#afb1b3" stroke-width="1.6"/><text transform="translate(16 251) rotate(-90)" font-family="Liberation Sans, sans-serif" font-size="12.5" fill="#bbbbbb" textLength="82" lengthAdjust="spacingAndGlyphs">Pull Requests</text><path d="M7 258v9.5M10.5 263h6v4.5M13 260.3l-2.7 2.7l2.7 2.7" stroke="#afb1b3" stroke-width="1.5" fill="none"/><text transform="translate(16 934) rotate(-90)" font-family="Liberation Sans, sans-serif" font-size="12.5" fill="#bbbbbb" textLength="53.5" lengthAdjust="spacingAndGlyphs">Structure</text><rect x="8" y="940.5" width="4" height="4" fill="#afb1b3" transform="translate(5.2 -0.3)"/><rect x="7.6" y="945.5" width="4" height="4" fill="#afb1b3"/><rect x="12.8" y="945.5" width="4" height="4" fill="#afb1b3"/><text transform="translate(16 1035) rotate(-90)" font-family="Liberation Sans, sans-serif" font-size="12.5" fill="#bbbbbb" textLength="61.5" lengthAdjust="spacingAndGlyphs">Bookmarks</text><path d="M7.5 1040.5h8.5v10.5l-4.25-3.4l-4.25 3.4z" fill="#afb1b3"/><circle cx="1908.5" cy="14.7" r="4.8" fill="none" stroke="#afb1b3" stroke-width="1.3"/><path d="M1905.3 14.7h6.4M1908.5 11.4v6.6" stroke="#afb1b3" stroke-width="0.9"/><text transform="translate(1904 25) rotate(90)" font-family="Liberation Sans, sans-serif" font-size="12.5" fill="#bbbbbb" textLength="90" lengthAdjust="spacingAndGlyphs">Key Promoter X</text><ellipse cx="1908.5" cy="139.5" rx="4.6" ry="2" fill="#afb1b3"/><path d="M1903.9 142.2c0 2.6 9.2 2.6 9.2 0M1903.9 145c0 2.6 9.2 2.6 9.2 0M1903.9 147.8c0 2.6 9.2 2.6 9.2 0" stroke="#afb1b3" stroke-width="1.3" fill="none"/><text transform="translate(1904 154) rotate(90)" font-family="Liberation Sans, sans-serif" font-size="12.5" fill="#bbbbbb" textLength="51.5" lengthAdjust="spacingAndGlyphs">Database</text><path d="M1906 228.2h5l2.6 4.4l-2.6 4.4h-5l-2.6-4.4z" fill="#afb1b3"/><text transform="translate(1904 241) rotate(90)" font-family="Liberation Sans, sans-serif" font-size="12.5" fill="#bbbbbb" textLength="20" lengthAdjust="spacingAndGlyphs">sbt</text><rect x="1902.8" y="279.3" width="11.5" height="12" fill="none" stroke="#afb1b3" stroke-width="1"/><path d="M1902.8 279.3l11.5 12M1914.3 279.3l-11.5 12" stroke="#afb1b3" stroke-width="0.9"/><text transform="translate(1904 296) rotate(90)" font-family="Liberation Sans, sans-serif" font-size="12.5" fill="#bbbbbb" textLength="20.5" lengthAdjust="spacingAndGlyphs">Elm</text><path d="M1903.5 346.5q0-5.5 5-5.5q5 0 5 5.5q1 3-5 3.8q-6-0.8-5-3.8z" fill="#afb1b3"/><circle cx="1906.6" cy="346.3" r="1" fill="#3c3f41"/><circle cx="1910.4" cy="346.3" r="1" fill="#3c3f41"/><text transform="translate(1904 355) rotate(90)" font-family="Liberation Sans, sans-serif" font-size="12.5" fill="#bbbbbb" textLength="82" lengthAdjust="spacingAndGlyphs">GitHub Copilot</text><path d="M34 1071v10.5M34 1078c4.2 0 5-1.6 5-4.2" stroke="#afb1b3" stroke-width="1.5" fill="none"/><circle cx="34" cy="1071.6" r="1.6" fill="#afb1b3"/><circle cx="39" cy="1073" r="1.6" fill="#afb1b3"/><text x="48.5" y="1080.3" font-family="Liberation Sans, sans-serif" font-size="12.5" fill="#bbbbbb" textLength="15.5" lengthAdjust="spacingAndGlyphs" >Git</text><path d="M88.5 1072.7h6.5M88.5 1076.2h6.5M88.5 1079.7h6.5" stroke="#afb1b3" stroke-width="1.6"/><path d="M85 1072.7h2M85 1076.2h2M85 1079.7h2" stroke="#afb1b3" stroke-width="1.6"/><text x="100" y="1080.3" font-family="Liberation Sans, sans-serif" font-size="12.5" fill="#bbbbbb" textLength="35" lengthAdjust="spacingAndGlyphs" >TODO</text><circle cx="163.5" cy="1076.2" r="5.3" fill="#afb1b3"/><path d="M163.5 1073v3.8M163.5 1078.4v1.3" stroke="#3c3f41" stroke-width="1.5"/><text x="174" y="1080.3" font-family="Liberation Sans, sans-serif" font-size="12.5" fill="#bbbbbb" textLength="53.5" lengthAdjust="spacingAndGlyphs" >Problems</text><rect x="250.5" y="1070" width="12" height="12.4" fill="none" stroke="#afb1b3" stroke-width="1"/><path d="M250.5 1070l12 12.4M262.5 1070l-12 12.4" stroke="#afb1b3" stroke-width="0.9"/><text x="267" y="1080.3" font-family="Liberation Sans, sans-serif" font-size="12.5" fill="#bbbbbb" textLength="75" lengthAdjust="spacingAndGlyphs" >Elm Compiler</text><path d="M374 1070.3l6.2 2.8l-6.2 2.8l-6.2-2.8z" fill="#afb1b3"/><path d="M367.8 1076.4l6.2 2.8l6.2-2.8M367.8 1079.4l6.2 2.8l6.2-2.8" stroke="#afb1b3" stroke-width="1.3" fill="none"/><text x="384" y="1080.3" font-family="Liberation Sans, sans-serif" font-size="12.5" fill="#bbbbbb" textLength="79.5" lengthAdjust="spacingAndGlyphs" >Dependencies</text><path d="M497 1076a5 5 0 1 0-5 5.2" stroke="#afb1b3" stroke-width="1.4" fill="none"/><path d="M492 1072.6v3.6h2.6" stroke="#afb1b3" stroke-width="1.2" fill="none"/><path d="M494.5 1078l5 2.6l-5 2.6z" fill="#afb1b3"/><text x="503" y="1080.3" font-family="Liberation Sans, sans-serif" font-size="12.5" fill="#bbbbbb" textLength="42.5" lengthAdjust="spacingAndGlyphs" >Profiler</text><path d="M568.5 1072h10.5v4M568.5 1072v8.5h5.5" stroke="#afb1b3" stroke-width="1.6" fill="none"/><rect x="575" y="1077" width="4.6" height="4.6" fill="#afb1b3"/><text x="584" y="1080.3" font-family="Liberation Sans, sans-serif" font-size="12.5" fill="#bbbbbb" textLength="47" lengthAdjust="spacingAndGlyphs" >sbt shell</text><rect x="653" y="1070.8" width="11" height="10.6" fill="#afb1b3"/><path d="M655.3 1074l2.4 2l-2.4 2M659 1078.6h3" stroke="#3c3f41" stroke-width="1.1" fill="none"/><text x="669" y="1080.3" font-family="Liberation Sans, sans-serif" font-size="12.5" fill="#bbbbbb" textLength="49.5" lengthAdjust="spacingAndGlyphs" >Terminal</text><path d="M1821 1070.8a6.3 6.3 0 1 0 0 12.6h6.3v-6.3a6.3 6.3 0 0 0-6.3-6.3z" fill="#499c54"/><text x="1818.6" y="1080.5" font-family="Liberation Sans, sans-serif" font-size="9.5" font-weight="bold" fill="#e8f0e8">2</text><text x="1832.5" y="1080.3" font-family="Liberation Sans, sans-serif" font-size="12.5" fill="#bbbbbb" textLength="54.3" lengthAdjust="spacingAndGlyphs" >Event Log</text></svg></body></html>
